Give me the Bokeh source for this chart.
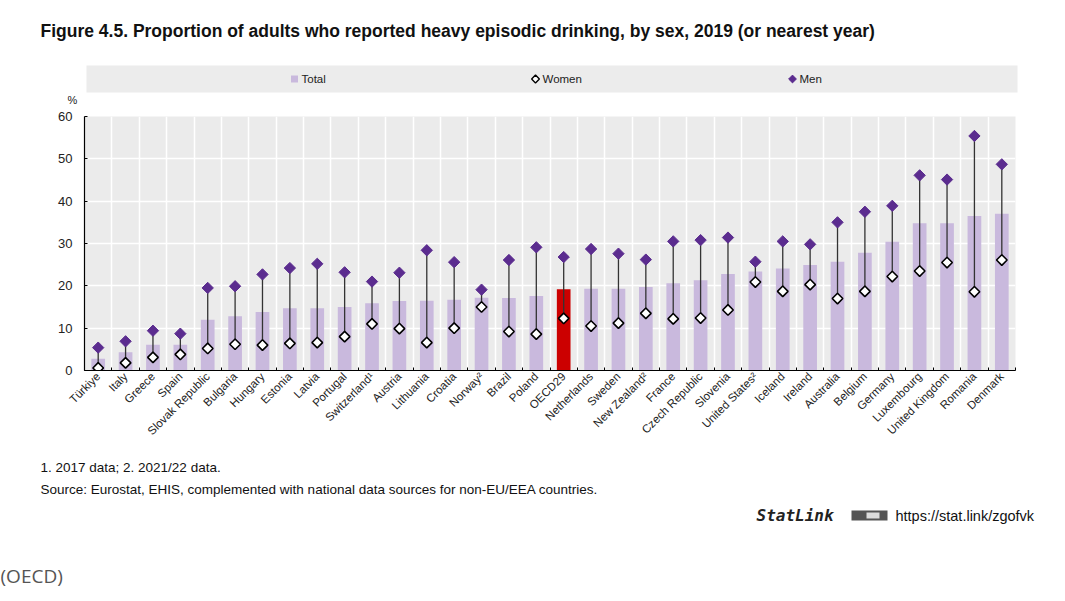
import numpy as np
from math import pi
from bokeh.plotting import figure
from bokeh.layouts import column
from bokeh.models import ColumnDataSource, Range1d, FixedTicker
from bokeh.core.properties import value
from bokeh.embed import file_html
from bokeh.resources import INLINE

countries = ["Türkiye", "Italy", "Greece", "Spain", "Slovak Republic", "Bulgaria",
             "Hungary", "Estonia", "Latvia", "Portugal", "Switzerland¹", "Austria",
             "Lithuania", "Croatia", "Norway²", "Brazil", "Poland", "OECD29",
             "Netherlands", "Sweden", "New Zealand²", "France", "Czech Republic",
             "Slovenia", "United States²", "Iceland", "Ireland", "Australia",
             "Belgium", "Germany", "Luxembourg", "United Kingdom", "Romania", "Denmark"]
total = [2.8, 4.3, 6.1, 6.1, 12.0, 12.8, 13.8, 14.7, 14.7, 15.0, 15.9, 16.4,
         16.5, 16.7, 17.2, 17.1, 17.6, 19.2, 19.3, 19.3, 19.7, 20.6, 21.3,
         22.8, 23.4, 24.1, 24.9, 25.7, 27.8, 30.4, 34.8, 34.8, 36.5, 37.0]
women = [0.6, 1.8, 3.1, 3.8, 5.2, 6.2, 6.0, 6.4, 6.6, 8.0, 11.0, 9.9,
         6.6, 10.0, 15.0, 9.2, 8.6, 12.3, 10.5, 11.2, 13.5, 12.2, 12.4,
         14.3, 20.9, 18.7, 20.3, 17.0, 18.7, 22.2, 23.5, 25.5, 18.6, 26.1]
men = [5.4, 6.9, 9.4, 8.7, 19.5, 19.9, 22.7, 24.2, 25.2, 23.2, 21.0, 23.1,
       28.4, 25.6, 19.1, 26.1, 29.1, 26.8, 28.7, 27.6, 26.2, 30.5, 30.8,
       31.4, 25.7, 30.5, 29.8, 35.0, 37.5, 38.9, 46.1, 45.1, 55.4, 48.7]
highlight = "OECD29"
y_ticks = [0, 10, 20, 30, 40, 50, 60]
series_names = ["Total", "Women", "Men"]

TOTAL_C = "#c9b9dd"
MEN_C = "#5b2c8f"
RED_C = "#cc0000"
FONT = "Liberation Sans"

n = len(countries)
xs = list(range(n))
colors = [RED_C if c == highlight else TOTAL_C for c in countries]
src = ColumnDataSource(dict(x=xs, country=countries, total=total, women=women,
                            men=men, color=colors))

W = 1065
H_TOP, H_MAIN = 110, 345
H_BOT = 601 - H_TOP - H_MAIN


def blank(h):
    f = figure(width=W, height=h, output_backend="svg", toolbar_location=None,
               x_range=Range1d(0, W), y_range=Range1d(h, 0),
               x_axis_type=None, y_axis_type=None, min_border=0,
               frame_align=False)
    f.outline_line_color = None
    f.background_fill_color = "white"
    f.border_fill_color = "white"
    return f


def txt(f, x, y, t, size, font=FONT, style="normal", color="#111111",
        align="left"):
    f.text(x=[x], y=[y], text=[t], text_font=value(font), text_font_size=size,
           text_font_style=style, text_color=color, text_align=align,
           text_baseline="middle")


# ---------- header: title, legend band, % ----------
hd = blank(H_TOP)
txt(hd, 40, 30, "Figure 4.5. Proportion of adults who reported heavy episodic drinking, "
    "by sex, 2019 (or nearest year)", "17.5px", style="bold")
hd.quad(left=[86], right=[1017], top=[65], bottom=[92], fill_color="#ececec",
        line_color=None)
lx = [294, 535, 792]
hd.scatter([lx[0]], [78.5], marker="square", size=7, fill_color=TOTAL_C,
           line_color=None)
hd.scatter([lx[1]], [78.5], marker="square", angle=pi / 4, size=5.5,
           fill_color="white", line_color="black", line_width=1.4)
hd.scatter([lx[2]], [78.5], marker="square", angle=pi / 4, size=5.5,
           fill_color=MEN_C, line_color=MEN_C)
for xx, nm in zip(lx, series_names):
    txt(hd, xx + 7, 78.5, nm, "11.5px", color="#222222")
txt(hd, 72, 99, "%", "11px", align="center", color="#222222")

# ---------- main chart ----------
p = figure(width=W, height=H_MAIN, output_backend="svg", toolbar_location=None,
           x_range=Range1d(-0.5, n - 0.5), y_range=Range1d(0, 60),
           min_border_left=84, min_border_right=50, min_border_top=6,
           min_border_bottom=85, frame_align=False)
p.outline_line_color = None
p.background_fill_color = "#ebebeb"
p.border_fill_color = "white"

p.vbar(x="x", top="total", bottom=0, width=0.5, fill_color="color",
       line_color=None, source=src)
p.segment(x0="x", y0="women", x1="x", y1="men", line_color="#333333",
          line_width=1.3, source=src)
p.scatter("x", "women", marker="square", angle=pi / 4, size=7.5,
          fill_color="white", line_color="black", line_width=1.6, source=src)
p.scatter("x", "men", marker="square", angle=pi / 4, size=8,
          fill_color=MEN_C, line_color=MEN_C, line_width=1, source=src)

xa = p.xaxis[0]
xa.ticker = FixedTicker(ticks=xs, minor_ticks=[i - 0.5 for i in range(n + 1)])
xa.major_label_overrides = {i: c for i, c in enumerate(countries)}
xa.major_label_orientation = pi / 4
xa.major_tick_in = 0
xa.major_tick_out = 0
xa.minor_tick_in = 3
xa.minor_tick_out = 0
xa.minor_tick_line_color = "black"
xa.axis_line_color = "black"
xa.axis_line_width = 1.2
xa.major_label_text_font = FONT
xa.major_label_text_font_size = "11.5px"
xa.major_label_text_color = "#222222"
xa.major_label_standoff = 4

ya = p.yaxis[0]
ya.ticker = FixedTicker(ticks=y_ticks)
ya.major_tick_in = 3
ya.major_tick_out = 0
ya.minor_tick_line_color = None
ya.axis_line_color = "black"
ya.axis_line_width = 1.2
ya.major_label_text_font = FONT
ya.major_label_text_font_size = "13px"
ya.major_label_text_color = "#222222"
ya.major_label_standoff = 12

p.xgrid.ticker = FixedTicker(ticks=[i - 0.5 for i in range(1, n)])
p.xgrid.grid_line_color = "white"
p.xgrid.grid_line_width = 1.5
p.ygrid.ticker = FixedTicker(ticks=y_ticks[1:])
p.ygrid.grid_line_color = "white"
p.ygrid.grid_line_width = 1.5

# ---------- footer ----------
ft = blank(H_BOT)
off = H_TOP + H_MAIN
txt(ft, 40, 467 - off, "1. 2017 data; 2. 2021/22 data.", "13.5px")
txt(ft, 40, 489 - off, "Source: Eurostat, EHIS, complemented with national data "
    "sources for non-EU/EEA countries.", "13.5px")
txt(ft, 756, 515 - off, "StatLink", "16px", font="DejaVu Sans Mono",
    style="bold italic", color="#222222")
ft.quad(left=[851], right=[887], top=[510 - off], bottom=[520 - off],
        fill_color="#555555", line_color=None)
ft.quad(left=[866], right=[879], top=[512 - off], bottom=[518 - off],
        fill_color="#dddddd", line_color=None)
txt(ft, 895, 515 - off, "https://stat.link/zgofvk", "14.5px")
txt(ft, 0, 575 - off, "(OECD)", "19px", font="Open Sans", color="#555555")

layout = column(hd, p, ft, spacing=0)
open("out.html", "w").write(file_html(layout, INLINE))
